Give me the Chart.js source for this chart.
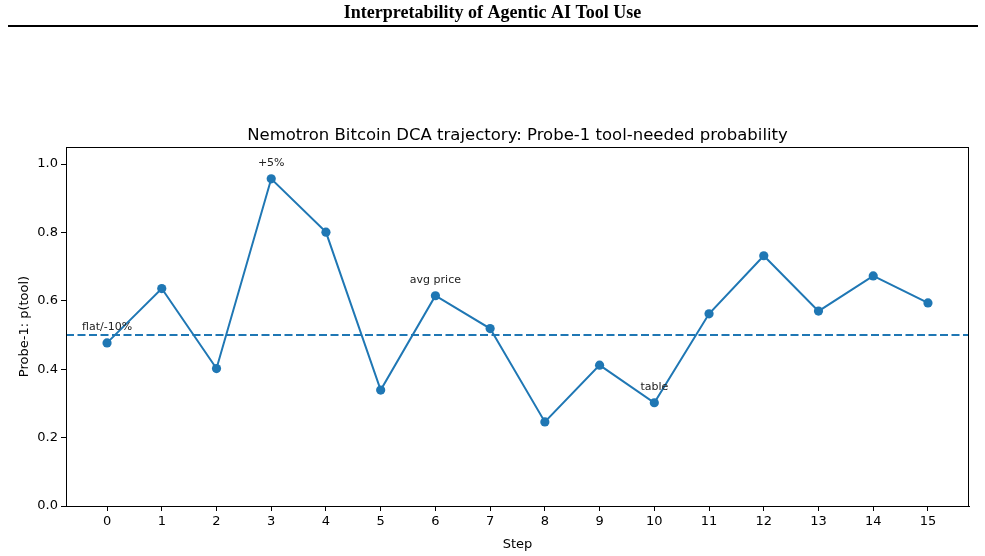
<!DOCTYPE html>
<html>
<head>
<meta charset="utf-8">
<script src="https://cdn.jsdelivr.net/npm/chart.js@4.4.0/dist/chart.umd.min.js"></script>
<style>
  html, body { margin: 0; padding: 0; background: #fff; }
  #wrap { width: 985px; height: 556px; position: relative; }
</style>
</head>
<body>
<div id="wrap"><canvas id="chart" width="985" height="556"></canvas></div>
<script>
// data
const steps = [0, 1, 2, 3, 4, 5, 6, 7, 8, 9, 10, 11, 12, 13, 14, 15];
const probTool = [0.477, 0.636, 0.402, 0.957, 0.801, 0.339, 0.615, 0.519, 0.246, 0.412, 0.302, 0.562, 0.732, 0.570, 0.673, 0.594];
const threshold = 0.5;
const noteSteps = [0, 3, 6, 10];
const noteTexts = ['flat/-10%', '+5%', 'avg price', 'table'];
const yTicks = [0, 0.2, 0.4, 0.6, 0.8, 1.0];

const pageTitle = 'Interpretability of Agentic AI Tool Use';
const chartTitle = 'Nemotron Bitcoin DCA trajectory: Probe-1 tool-needed probability';
const blue = '#1f77b4';

// header, title, frame and point notes
const decor = {
  id: 'decor',
  afterDraw(chart) {
    const { ctx, chartArea: a, scales } = chart;
    ctx.save();
    ctx.fillStyle = '#000';
    ctx.textAlign = 'center';
    ctx.textBaseline = 'middle';
    ctx.font = 'bold 18px "Liberation Serif", "DejaVu Serif", serif';
    ctx.fillText(pageTitle, 492.5, 13);
    ctx.fillRect(8, 25, 970, 2);

    ctx.font = '16.5px "DejaVu Sans", sans-serif';
    ctx.textBaseline = 'alphabetic';
    ctx.fillText(chartTitle, (a.left + a.right) / 2, 140);

    ctx.strokeStyle = '#000';
    ctx.lineWidth = 1;
    ctx.strokeRect(a.left + 0.5, a.top + 0.5, a.right - a.left - 1, a.bottom - a.top);

    ctx.font = '11px "DejaVu Sans", sans-serif';
    ctx.fillStyle = '#222';
    noteSteps.forEach((s, i) => {
      const x = scales.x.getPixelForValue(s);
      const y = scales.y.getPixelForValue(probTool[steps.indexOf(s)]);
      ctx.fillText(noteTexts[i], x, y - 13);
    });
    ctx.restore();
  }
};

new Chart(document.getElementById('chart'), {
  type: 'line',
  data: {
    datasets: [{
      data: steps.map((s, i) => ({ x: s, y: probTool[i] })),
      borderColor: blue,
      backgroundColor: blue,
      borderWidth: 2,
      pointRadius: 4.6,
      pointBackgroundColor: blue,
      pointBorderWidth: 0,
      tension: 0
    }, {
      data: [{ x: -0.75, y: threshold }, { x: 15.75, y: threshold }],
      borderColor: blue,
      borderWidth: 2,
      borderDash: [8, 3.5],
      pointRadius: 0
    }]
  },
  options: {
    responsive: false,
    animation: false,
    layout: { padding: { top: 147, right: 16, left: 13, bottom: 0 } },
    plugins: { legend: { display: false }, tooltip: { enabled: false } },
    scales: {
      x: {
        type: 'linear', min: -0.75, max: 15.75,
        afterBuildTicks: s => { s.ticks = steps.map(v => ({ value: v })); },
        afterFit: s => { s.height = 50; },
        grid: { drawOnChartArea: false, drawTicks: true, tickLength: 5, color: '#000' },
        border: { display: true, color: '#000' },
        ticks: { color: '#000', font: { family: 'DejaVu Sans', size: 13 }, padding: 3, callback: v => v },
        title: { display: true, text: 'Step', color: '#000', font: { family: 'DejaVu Sans', size: 13 }, padding: { top: 0 } }
      },
      y: {
        min: 0, max: 1.05,
        afterBuildTicks: s => { s.ticks = yTicks.map(v => ({ value: v })); },
        afterFit: s => { s.width = 53; },
        grid: { drawOnChartArea: false, drawTicks: true, tickLength: 5, color: '#000' },
        border: { display: true, color: '#000' },
        ticks: { color: '#000', font: { family: 'DejaVu Sans', size: 13 }, padding: 3, callback: v => v.toFixed(1) },
        title: { display: true, text: 'Probe-1: p(tool)', color: '#000', font: { family: 'DejaVu Sans', size: 13 }, padding: { bottom: 2 } }
      }
    }
  },
  plugins: [decor]
});
</script>
</body>
</html>
